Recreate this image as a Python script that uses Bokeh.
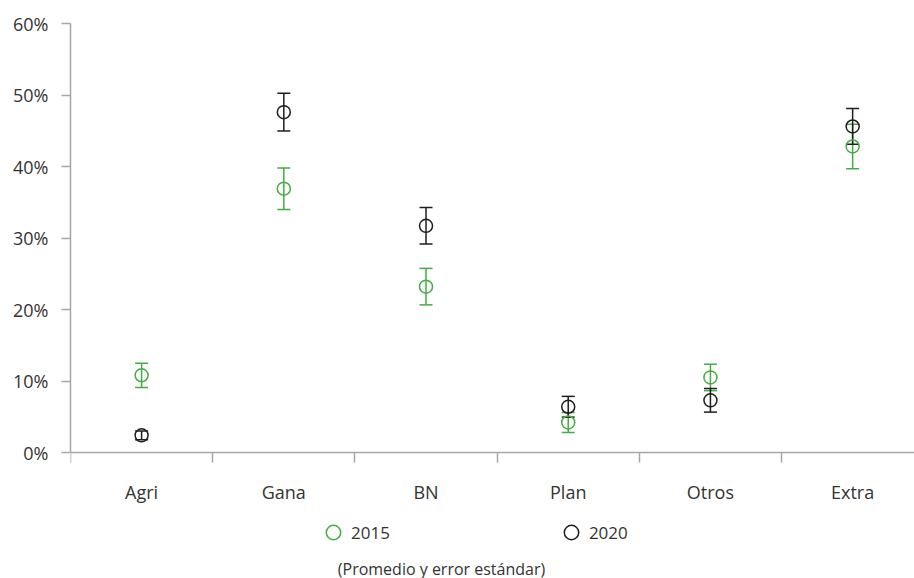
from bokeh.plotting import figure
from bokeh.models import (ColumnDataSource, Whisker, TeeHead, FixedTicker, NumeralTickFormatter,
                          Legend, LegendItem, Label, Range1d, LinearAxis)
from bokeh.embed import file_html
from bokeh.resources import INLINE

categories = ["Agri", "Gana", "BN", "Plan", "Otros", "Extra"]
mean_2015 = [0.108, 0.369, 0.232, 0.042, 0.105, 0.428]
err_2015 = [0.017, 0.029, 0.0255, 0.014, 0.0185, 0.031]
mean_2020 = [0.024, 0.476, 0.317, 0.064, 0.073, 0.456]
err_2020 = [0.006, 0.0265, 0.0255, 0.0145, 0.0165, 0.025]
y_ticks = [0.0, 0.1, 0.2, 0.3, 0.4, 0.5, 0.6]
caption = "(Promedio y error estándar)"

GREEN = "#45ab45"
BLACK = "#1e1e1e"
FONT = "Open Sans"

xs = [i + 0.5 for i in range(len(categories))]

def make_source(m, e):
    return ColumnDataSource(dict(x=xs, y=m,
                                 upper=[a + b for a, b in zip(m, e)],
                                 lower=[a - b for a, b in zip(m, e)]))

s15 = make_source(mean_2015, err_2015)
s20 = make_source(mean_2020, err_2020)

# frame spans the whole lower area so that the legend and caption are not clipped;
# the x axis is pinned at y = 0
p = figure(width=914, height=578, output_backend="svg", toolbar_location=None,
           x_axis_location=None,
           x_range=Range1d(0, 5.935), y_range=Range1d(-0.1762, 0.6),
           min_border_left=70, min_border_top=23, min_border_right=0, min_border_bottom=0)
p.outline_line_color = None
p.xgrid.visible = False
p.ygrid.visible = False

axis_color = "#a6a6a6"
label_color = "#333333"

# x axis
xaxis = LinearAxis(fixed_location=0)
xaxis.ticker = FixedTicker(ticks=xs, minor_ticks=list(range(len(categories) + 1)))
xaxis.major_label_overrides = {x: c for x, c in zip(xs, categories)}
xaxis.major_tick_out = 0
xaxis.major_tick_in = 0
xaxis.minor_tick_out = 10
xaxis.minor_tick_in = 0
xaxis.minor_tick_line_color = axis_color
xaxis.minor_tick_line_width = 1.5
xaxis.axis_line_color = axis_color
xaxis.axis_line_width = 1.5
xaxis.major_label_standoff = 17
xaxis.major_label_text_font = FONT
xaxis.major_label_text_font_size = "18px"
xaxis.major_label_text_color = label_color
p.add_layout(xaxis, "below")

# y axis
p.yaxis.bounds = (0, 0.6)
p.yaxis.ticker = FixedTicker(ticks=y_ticks)
p.yaxis.formatter = NumeralTickFormatter(format="0%")
p.yaxis.minor_tick_line_color = None
p.yaxis.major_tick_out = 9
p.yaxis.major_tick_in = 0
p.yaxis.major_tick_line_color = axis_color
p.yaxis.major_tick_line_width = 1.5
p.yaxis.axis_line_color = axis_color
p.yaxis.axis_line_width = 1.5
p.yaxis.major_label_standoff = 13
p.yaxis.major_label_text_font = FONT
p.yaxis.major_label_text_font_size = "18px"
p.yaxis.major_label_text_color = label_color

for src, col in [(s15, GREEN), (s20, BLACK)]:
    w = Whisker(source=src, base="x", upper="upper", lower="lower",
                line_color=col, line_width=1.5,
                upper_head=TeeHead(size=13, line_color=col, line_width=1.5),
                lower_head=TeeHead(size=13, line_color=col, line_width=1.5))
    p.add_layout(w)

r15 = p.scatter("x", "y", source=s15, size=13, marker="circle", fill_color=None,
                line_color=GREEN, line_width=1.5)
r20 = p.scatter("x", "y", source=s20, size=13, marker="circle", fill_color=None,
                line_color=BLACK, line_width=1.5)

legend = Legend(items=[LegendItem(label="2015", renderers=[r15]),
                       LegendItem(label="2020", renderers=[r20])],
                orientation="horizontal", location=(245, 28),
                padding=0, margin=0, spacing=163, glyph_width=36, glyph_height=36,
                label_standoff=0, label_width=36, label_height=36,
                label_text_font=FONT, label_text_font_size="17px",
                label_text_color=label_color, background_fill_alpha=0,
                border_line_color=None)
p.add_layout(legend, "center")

cap = Label(x=371, y=10, x_units="screen", y_units="screen", text=caption,
            text_align="center", text_baseline="middle",
            text_font=FONT, text_font_size="16px", text_color=label_color)
p.add_layout(cap)

open("out.html", "w").write(file_html(p, INLINE))
